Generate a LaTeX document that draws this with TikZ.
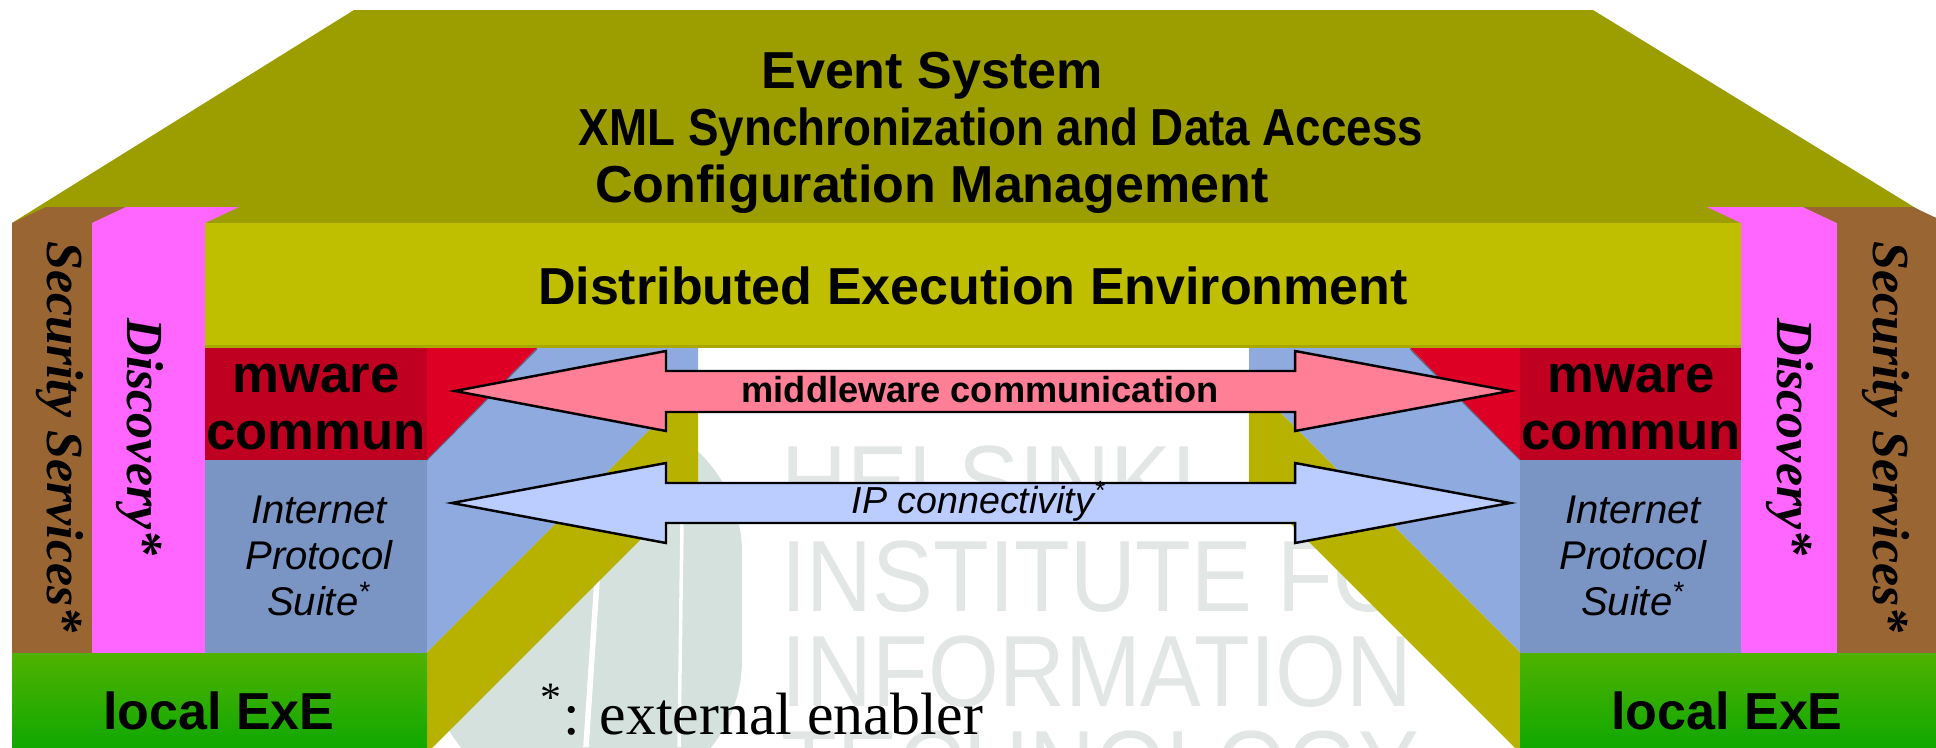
\documentclass[tikz,border=0pt]{standalone}
\usepackage{fontspec}
\setmainfont{Liberation Sans}
\newfontfamily\timesfont{Liberation Serif}

\definecolor{roofolive}{RGB}{156,158,0}
\definecolor{deeolive}{RGB}{191,191,0}
\definecolor{floorolive}{RGB}{183,178,0}
\definecolor{secbrown}{RGB}{153,102,51}
\definecolor{discpink}{RGB}{255,102,255}
\definecolor{mwred}{RGB}{192,0,32}
\definecolor{mwside}{RGB}{221,0,36}
\definecolor{ipblue}{RGB}{122,148,196}
\definecolor{ipside}{RGB}{142,170,222}
\definecolor{arrpink}{RGB}{255,128,150}
\definecolor{arrblue}{RGB}{187,204,255}
\definecolor{exetop}{RGB}{80,178,0}
\definecolor{exebot}{RGB}{16,168,0}
\definecolor{wmark}{RGB}{226,230,229}
\definecolor{logo}{RGB}{212,225,220}

\begin{document}
\begin{tikzpicture}[x=0.1mm,y=-0.1mm,
  every node/.style={inner sep=0pt,text=black},
  headline/.style={font=\bfseries\fontsize{14.8}{16.2}\selectfont,align=center,anchor=base},
  boxtext/.style={font=\bfseries\fontsize{15}{16.2}\selectfont,align=center},
  iptext/.style={font=\itshape\fontsize{11.4}{13.1}\selectfont,align=center},
  pillar/.style={font=\timesfont\bfseries\itshape\fontsize{14.8}{16}\selectfont,rotate=-90},
  arrowtext/.style={font=\bfseries\fontsize{10.3}{12}\selectfont},
  bigarrow/.style={draw=black,line width=0.7pt,line join=miter}]

  \useasboundingbox (0,0) rectangle (1936,747);
  \clip (0,0) rectangle (1936,747);

%% watermark
  \fill[logo,rounded corners=40] (430,413) rectangle (742,800);
  \draw[white,line width=1.6pt] (597,580) -- (586,747);
  \draw[white,line width=1pt] (682,523) -- (679,747);
  \node[font=\fontsize{28.8}{27}\selectfont,text=wmark,align=left,anchor=north west,xscale=0.9] (hiit) at (781,445)
    {HELSINKI\\INSTITUTE FOR\\INFORMATION\\TECHNOLOGY};

%% roof and DEE
  \fill[roofolive] (354,10) -- (1593,10) -- (1940,223) -- (12,223) -- cycle;
  \fill[deeolive] (205,223) rectangle (1741,348);
  \fill[deeolive!88!black] (205,345) rectangle (1741,348);

%% pillars
  \fill[secbrown] (12,223) rectangle (92,653);
  \fill[secbrown] (12,223) -- (46,207) -- (126,207) -- (92,223) -- cycle;
  \fill[discpink] (92,223) rectangle (205,653);
  \fill[discpink] (92,223) -- (126,207) -- (239,207) -- (205,223) -- cycle;
  \fill[discpink] (1741,223) rectangle (1837,653);
  \fill[discpink] (1741,223) -- (1707,207) -- (1803,207) -- (1837,223) -- cycle;
  \fill[secbrown] (1837,223) rectangle (1936,653);
  \fill[secbrown] (1837,223) -- (1803,207) -- (1913,207) -- (1947,223) -- cycle;

%% tunnel walls
  \fill[floorolive] (427,652) -- (698,381) -- (698,482) -- (427,753) -- cycle;
  \fill[ipside] (427,460) -- (537,348) -- (698,348) -- (698,381) -- (427,652) -- cycle;
  \fill[mwside] (427,348) -- (537,348) -- (427,460) -- cycle;
  \draw[ipblue!70!black,line width=0.3pt] (427,460) -- (537,349);
  \fill[floorolive] (1520,652) -- (1249,381) -- (1249,482) -- (1520,753) -- cycle;
  \fill[ipside] (1520,460) -- (1410,348) -- (1249,348) -- (1249,381) -- (1520,652) -- cycle;
  \fill[mwside] (1520,348) -- (1410,348) -- (1520,460) -- cycle;
  \draw[ipblue!70!black,line width=0.3pt] (1520,460) -- (1410,349);

%% boxes
  \fill[mwred] (205,348) rectangle (427,460);
  \fill[ipblue] (205,460) rectangle (427,653);
  \fill[mwred] (1520,348) rectangle (1741,460);
  \fill[ipblue] (1520,460) rectangle (1741,653);
  \fill[top color=exetop,bottom color=exebot] (12,653) rectangle (427,747);
  \fill[top color=exetop,bottom color=exebot] (1520,653) rectangle (1936,747);

%% arrows
  \filldraw[bigarrow,fill=arrpink] (455,391) -- (666,351) -- (666,371) -- (1295,371) -- (1295,351)
    -- (1510,391) -- (1295,431) -- (1295,412) -- (666,412) -- (666,431) -- cycle;
  \filldraw[bigarrow,fill=arrblue] (452,503) -- (666,463) -- (666,483) -- (1295,483) -- (1295,463)
    -- (1510,503) -- (1295,543) -- (1295,523) -- (666,523) -- (666,543) -- cycle;

%% labels
  \node[headline] (evt) at (932,88) {Event System};
  \node[headline,xscale=0.88] (xml) at (1001,145) {XML Synchronization and Data Access};
  \node[headline] (cfg) at (932,202) {Configuration Management};
  \node[headline] (dee) at (973,304) {Distributed Execution Environment};

  \node[boxtext] (mwl) at (316,407) {mware\\commun};
  \node[boxtext] (mwr) at (1631,407) {mware\\commun};
  \node[iptext] (ipl) at (319,556) {Internet\\Protocol\\Suite\textsuperscript{*}};
  \node[iptext] (ipr) at (1633,556) {Internet\\Protocol\\Suite\textsuperscript{*}};
  \node[headline] (exel) at (219,729) {local ExE};
  \node[headline] (exer) at (1727,729) {local ExE};

  \node[pillar] (secl) at (60,437) {Security Services*};
  \node[pillar] (discl) at (140,437) {Discovery*};
  \node[pillar] (discr) at (1790,437) {Discovery*};
  \node[pillar] (secr) at (1886,437) {Security Services*};

  \node[arrowtext,anchor=base] (mwc) at (980,402) {middleware communication};
  \node[font=\itshape\fontsize{10.7}{12}\selectfont,anchor=base] (ipc) at (979,513) {IP connectivity\textsuperscript{*}};

  \node[font=\timesfont\fontsize{17}{20}\selectfont,anchor=base west] (note) at (540,734)
    {\textsuperscript{*}: external enabler};
\end{tikzpicture}
\end{document}
